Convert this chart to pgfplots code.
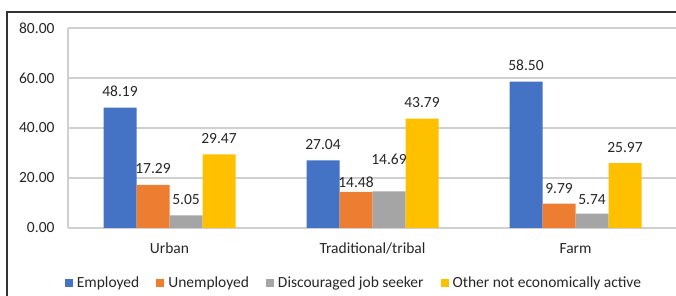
\documentclass[border=0pt]{standalone}
\usepackage{pgfplots}
\pgfplotsset{compat=1.18}
\usepackage{pgfplotstable}
\usepackage{fontspec}
\setmainfont{Carlito}
\definecolor{cBlue}{HTML}{4472C4}
\definecolor{cOrange}{HTML}{ED7D31}
\definecolor{cGray}{HTML}{A5A5A5}
\definecolor{cGold}{HTML}{FFC000}
\definecolor{cText}{HTML}{262626}
\definecolor{cGrid}{HTML}{D0D0D0}

\pgfplotstableread{
x y off
0 48.19 11
1 27.04 11
2 58.50 11.5
}\employed
\pgfplotstableread{
x y off
0 17.29 11
1 14.48 4
2 9.79 10.5
}\unemployed
\pgfplotstableread{
x y off
0 5.05 11
1 14.69 27
2 5.74 9.5
}\discouraged
\pgfplotstableread{
x y off
0 29.47 10.5
1 43.79 11.5
2 25.97 11
}\other

\newcommand{\cf}{\fontsize{15.5}{18}\selectfont}

\begin{document}
\begin{tikzpicture}
\useasboundingbox (-68pt,-68pt) rectangle (608pt,228pt);
\draw[line width=1.2pt, black!80] (-61pt,-80pt) -- (-61pt,216pt) -- (640pt,216pt);
\begin{axis}[
  at={(0pt,0pt)}, anchor=south west,
  scale only axis, width=609pt, height=200pt,
  xmin=-0.5, xmax=2.5, ymin=0, ymax=80,
  ytick={0,20,40,60,80},
  xtick={0,1,2}, xticklabels={Urban,Traditional/tribal,Farm},
  ymajorgrids, grid style={line width=1.2pt, color=cGrid},
  major tick length=0pt,
  axis x line*=bottom, axis y line*=left,
  axis line style={-, line width=1.2pt, cGrid},
  ybar=0pt, bar width=33pt,
  yticklabel style={/pgf/number format/.cd, fixed, fixed zerofill, precision=2, assume math mode=true, /tikz/.cd, font=\cf, text=cText, anchor=east, xshift=-10pt},
  xticklabel style={font=\cf, text=cText, anchor=base, yshift=-26pt},
  nodes near coords={\pgfmathprintnumber[fixed,fixed zerofill,precision=2,assume math mode=true]{\pgfplotspointmeta}},
  visualization depends on={\thisrow{off} \as \labeloff},
  every node near coord/.append style={anchor=base, yshift=\labeloff pt, font=\cf, text=cText},
  legend style={at={(0.4696,-0.275)}, anchor=center, draw=none, fill=none, font=\cf, text=cText,
    legend columns=4, /tikz/every even column/.append style={column sep=15pt}},
  legend cell align=left,
  legend image code/.code={\fill[#1] (0pt,-4pt) rectangle (8pt,4pt); \path (0pt,0pt) -- (10pt,0pt);},
]
\addplot[fill=cBlue, draw=none] table[x=x,y=y]{\employed};
\addplot[fill=cOrange, draw=none] table[x=x,y=y]{\unemployed};
\addplot[fill=cGray, draw=none] table[x=x,y=y]{\discouraged};
\addplot[fill=cGold, draw=none] table[x=x,y=y]{\other};
\legend{Employed,Unemployed,Discouraged job seeker,Other not economically active}
\end{axis}
\end{tikzpicture}
\end{document}
